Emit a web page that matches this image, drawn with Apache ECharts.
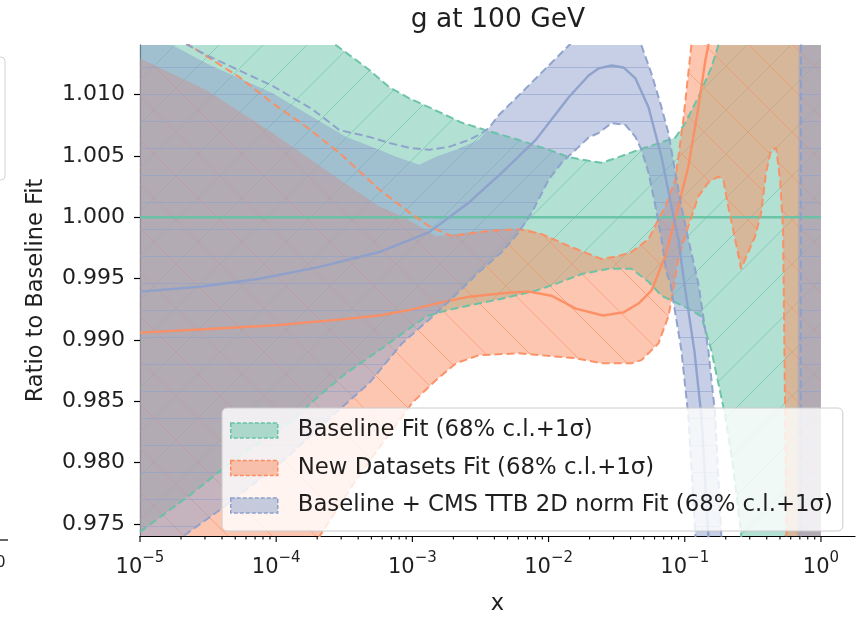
<!DOCTYPE html>
<html>
<head>
<meta charset="utf-8">
<script src="https://cdn.jsdelivr.net/npm/echarts@6/dist/echarts.min.js"></script>
<style>
  html, body { margin: 0; padding: 0; background: #ffffff; }
  #chart { width: 858px; height: 621px; }
</style>
</head>
<body>
<div id="chart"></div>
<script>
// Gluon ratio bands at Q = 100 GeV. Points are [log10(x), ratio to baseline].

const seriesNames = [
  'Baseline Fit (68% c.l.+1σ)',
  'New Datasets Fit (68% c.l.+1σ)',
  'Baseline + CMS TTB 2D norm Fit (68% c.l.+1σ)'
];

// Baseline fit
const greenUpper = [
  [-5.0, 1.0215], [-4.5, 1.0190], [-4.0, 1.0168], [-3.558, 1.0140], [-3.411, 1.0128],
  [-3.316, 1.0120], [-3.17, 1.0106], [-3.023, 1.0097], [-2.826, 1.0087], [-2.635, 1.0077],
  [-2.46, 1.0071], [-2.218, 1.0063], [-1.999, 1.0055], [-1.852, 1.0049], [-1.706, 1.0046],
  [-1.611, 1.00445], [-1.486, 1.0049], [-1.34, 1.0055], [-1.20, 1.0060], [-1.069, 1.0065],
  [-0.996, 1.0077], [-0.90, 1.0098], [-0.805, 1.0122], [-0.754, 1.0140], [-0.65, 1.0175],
  [0.0, 1.0220]
];
const greenLower = [
  [-5.0, 0.97437], [-4.634, 0.97736], [-4.268, 0.9806], [-3.902, 0.98327], [-3.66, 0.98569],
  [-3.485, 0.98731], [-3.243, 0.98917], [-2.899, 0.99192], [-2.753, 0.9924], [-2.584, 0.99281],
  [-2.343, 0.99337], [-2.094, 0.99402], [-1.947, 0.99458], [-1.75, 0.9954], [-1.559, 0.9958],
  [-1.391, 0.9958], [-1.266, 0.99475], [-1.171, 0.99361], [-0.974, 0.99256], [-0.878, 0.99192],
  [-0.805, 0.98917], [-0.754, 0.9865], [-0.703, 0.98383], [-0.644, 0.97963], [-0.586, 0.97413],
  [-0.53, 0.965], [0.0, 0.950]
];
const greenCentral = [[-5.0, 1.0], [0.0, 1.0]];

// New datasets fit
const orangeUpper = [
  [-5.0, 1.01293], [-4.51, 1.01035], [-4.026, 1.00687], [-3.536, 1.00307], [-3.243, 1.00089],
  [-3.075, 1.00008], [-2.826, 0.99846], [-2.584, 0.99879], [-2.343, 0.99903], [-2.145, 0.99903],
  [-2.05, 0.99863], [-1.852, 0.99766], [-1.611, 0.9966], [-1.486, 0.99685], [-1.391, 0.99717],
  [-1.266, 0.99822], [-1.193, 0.99984], [-1.142, 1.00089], [-1.069, 1.00307], [-1.01, 1.0080],
  [-0.952, 1.0140], [-0.9, 1.018], [0.0, 1.030]
];
const orangeUpperDash = [
  [-5.0, 1.0175], [-4.634, 1.0140], [-4.268, 1.0114], [-4.026, 1.0093], [-3.777, 1.00736],
  [-3.536, 1.00525], [-3.243, 1.00226], [-3.023, 1.0004], [-2.877, 0.99927], [-2.709, 0.99846],
  [-2.46, 0.99887], [-2.218, 0.99903], [-2.05, 0.99863], [-1.852, 0.99766], [-1.611, 0.9966],
  [-1.486, 0.99685], [-1.391, 0.99717], [-1.266, 0.99822], [-1.193, 0.99984], [-1.142, 1.00089],
  [-1.069, 1.00307], [-1.01, 1.0080], [-0.952, 1.0140], [-0.9, 1.018]
];
const orangeLower = [
  [-5.0, 0.955], [-4.0, 0.962], [-3.682, 0.9740], [-3.39, 0.9790], [-3.001, 0.98488],
  [-2.826, 0.98674], [-2.679, 0.98811], [-2.511, 0.98876], [-2.218, 0.98892], [-1.977, 0.98868],
  [-1.801, 0.98852], [-1.611, 0.98811], [-1.391, 0.98811], [-1.318, 0.98836], [-1.193, 0.98973],
  [-1.12, 0.99192], [-1.098, 0.99321], [-1.047, 0.9966], [-0.974, 0.99927], [-0.90, 1.00171],
  [-0.827, 1.00283], [-0.754, 1.00331], [-0.717, 1.00307], [-0.681, 1.00089], [-0.63, 0.99822],
  [-0.586, 0.9958], [-0.534, 0.99717], [-0.483, 0.99846], [-0.439, 1.0004], [-0.403, 1.00364],
  [-0.366, 1.0055], [-0.329, 1.00566], [-0.30, 1.00307], [-0.278, 0.9990], [-0.264, 0.985],
  [-0.25, 0.970], [0.0, 0.940]
];
const orangeCentral = [
  [-5.0, 0.9906], [-4.5, 0.9909], [-4.0, 0.9912], [-3.5, 0.9917], [-3.243, 0.9920],
  [-3.0, 0.9925], [-2.826, 0.99297], [-2.584, 0.99353], [-2.3, 0.99385], [-2.145, 0.99394],
  [-1.977, 0.99361], [-1.801, 0.99256], [-1.60, 0.9920], [-1.45, 0.99225], [-1.34, 0.99297],
  [-1.245, 0.99402], [-1.142, 0.99685], [-1.047, 1.00089], [-0.974, 1.00412], [-0.90, 1.00897],
  [-0.849, 1.01277], [-0.827, 1.0140], [-0.75, 1.022]
];

// Baseline + CMS TTB 2D norm fit
const blueUpper = [
  [-5.0, 1.0165], [-4.758, 1.0140], [-4.51, 1.01253], [-4.026, 1.01011], [-3.734, 1.00817],
  [-3.485, 1.00655], [-3.243, 1.0055], [-3.119, 1.00493], [-2.95, 1.00428], [-2.826, 1.00493],
  [-2.679, 1.0055], [-2.511, 1.00631], [-2.438, 1.00728], [-2.365, 1.00833], [-2.218, 1.00994],
  [-2.072, 1.01156], [-1.925, 1.01318], [-1.852, 1.0140], [-1.6, 1.0170], [-1.45, 1.0160],
  [-1.318, 1.0140], [-1.245, 1.01172], [-1.171, 1.00897], [-1.12, 1.00687], [-1.069, 1.00364],
  [-1.025, 1.00089], [-0.974, 0.99822], [-0.90, 0.99458], [-0.827, 0.98917], [-0.776, 0.98383],
  [-0.732, 0.97413], [-0.65, 0.960], [-0.20, 0.955], [-0.175, 0.970], [-0.16, 1.030], [0.0, 1.040]
];
const blueUpperDash = [
  [-5.0, 1.0172], [-4.758, 1.0147], [-4.51, 1.0132], [-4.026, 1.0107], [-3.734, 1.0088],
  [-3.536, 1.00711], [-3.316, 1.00655], [-3.17, 1.00606], [-3.023, 1.00566], [-2.877, 1.0055],
  [-2.731, 1.00574], [-2.584, 1.00631], [-2.489, 1.00687], [-2.438, 1.00728], [-2.365, 1.00833],
  [-2.218, 1.00994], [-2.072, 1.01156], [-1.925, 1.01318], [-1.852, 1.0140], [-1.6, 1.0170],
  [-1.45, 1.0160], [-1.318, 1.0140], [-1.245, 1.01172], [-1.171, 1.00897], [-1.12, 1.00687],
  [-1.069, 1.00364], [-1.025, 1.00089], [-0.974, 0.99822], [-0.90, 0.99458], [-0.827, 0.98917],
  [-0.776, 0.98383], [-0.732, 0.97413], [-0.65, 0.960], [-0.20, 0.955], [-0.15, 0.960], [-0.145, 1.030]
];
const blueLower = [
  [-5.0, 0.965], [-4.685, 0.9740], [-4.414, 0.97615], [-3.975, 0.9799], [-3.609, 0.9836],
  [-3.316, 0.9865], [-3.075, 0.98974], [-2.826, 0.99216], [-2.657, 0.99394], [-2.511, 0.99555],
  [-2.343, 0.99717], [-2.218, 0.99879], [-2.123, 1.0004], [-1.999, 1.00307], [-1.903, 1.00445],
  [-1.801, 1.0055], [-1.706, 1.0065], [-1.633, 1.00687], [-1.537, 1.00768], [-1.435, 1.00752],
  [-1.362, 1.00655], [-1.318, 1.0055], [-1.266, 1.00364], [-1.215, 1.00089], [-1.171, 0.99822],
  [-1.135, 0.99555], [-1.105, 0.99458], [-1.025, 0.98917], [-0.974, 0.98383], [-0.922, 0.97413],
  [-0.85, 0.960], [0.0, 0.940]
];
const blueCentral = [
  [-5.0, 0.99394], [-4.561, 0.99434], [-4.122, 0.99499], [-3.682, 0.99596], [-3.243, 0.99717],
  [-2.877, 0.99879], [-2.584, 1.00121], [-2.343, 1.00364], [-2.094, 1.00631], [-1.852, 1.00978],
  [-1.706, 1.01156], [-1.633, 1.01213], [-1.537, 1.01237], [-1.45, 1.01221], [-1.362, 1.01132],
  [-1.266, 1.00897], [-1.171, 1.00493], [-1.098, 1.00089], [-1.047, 0.99822], [-1.003, 0.99458],
  [-0.93, 0.98917], [-0.878, 0.98383], [-0.827, 0.97413], [-0.78, 0.965]
];

// axis ticks
const yTicks = [0.975, 0.980, 0.985, 0.990, 0.995, 1.000, 1.005, 1.010];
const xDecades = [-5, -4, -3, -2, -1, 0];
const xMinorMultipliers = [2, 3, 4, 5, 6, 7, 8, 9];

const Y_MIN = 0.97403, Y_MAX = 1.01404;
const X_MIN = 1e-5, X_MAX = Math.pow(10, 0.25);
const FONT = 'DejaVu Sans';
const INK = '#1f1f1f';

const GREEN = [102, 194, 165], ORANGE = [252, 141, 98], BLUE = [141, 160, 203];
const rgba = (c, a) => 'rgba(' + c[0] + ',' + c[1] + ',' + c[2] + ',' + a + ')';
const rgb = c => 'rgb(' + c[0] + ',' + c[1] + ',' + c[2] + ')';

// translucent fill with a hatch drawn over it: '/', '\\' or '-'
function hatch(color, kind) {
  const size = kind === '-' ? 27 : 44;
  const cv = document.createElement('canvas');
  cv.width = size; cv.height = size;
  const g = cv.getContext('2d');
  g.fillStyle = rgba(color, 0.5);
  g.fillRect(0, 0, size, size);
  g.strokeStyle = rgba(color, 0.6);
  g.lineWidth = 1;
  g.beginPath();
  if (kind === '-') {
    g.moveTo(0, size / 2); g.lineTo(size, size / 2);
  } else if (kind === '/') {
    for (const c of [0, size, 2 * size]) { g.moveTo(c + size, -size); g.lineTo(c - size, size); }
  } else {
    for (const c of [-size, 0, size]) { g.moveTo(c - size, -size); g.lineTo(c + 2 * size, 2 * size); }
  }
  g.stroke();
  return { image: cv, repeat: 'repeat' };
}

const toXY = pts => pts.map(p => [Math.pow(10, p[0]), p[1]]);

function band(name, upper, lower, fill) {
  const up = toXY(upper), lo = toXY(lower).reverse();
  return {
    type: 'custom', name: name, clip: true, silent: true, z: 2,
    data: [up[0]],
    renderItem: function (params, api) {
      const points = up.concat(lo).map(p => api.coord(p));
      return { type: 'polygon', shape: { points: points }, style: { fill: fill, stroke: null } };
    }
  };
}

function curve(pts, color, dashed) {
  return {
    type: 'line', data: toXY(pts), showSymbol: false, symbol: 'none', silent: true, z: 3,
    clip: true,
    lineStyle: dashed
      ? { color: color, width: 2, type: [8, 4], opacity: 0.95 }
      : { color: color, width: 2.4, opacity: 0.95 }
  };
}

// x-axis ticks: [value, bottom of the y range, tick length]
const xTicks = [];
xDecades.forEach(d => {
  xTicks.push([Math.pow(10, d), Y_MIN, 6]);
  xMinorMultipliers.forEach(m => {
    const v = m * Math.pow(10, d);
    if (v < X_MAX) xTicks.push([v, Y_MIN, 3.5]);
  });
});

const chart = echarts.init(document.getElementById('chart'), null, { renderer: 'canvas' });

chart.setOption({
  animation: false,
  backgroundColor: '#ffffff',
  grid: { left: 140, top: 45, right: 1, bottom: 81, containLabel: false },
  xAxis: {
    type: 'log', logBase: 10, min: X_MIN, max: X_MAX, splitNumber: 5,
    name: 'x', nameLocation: 'middle', nameGap: 57,
    nameTextStyle: { fontFamily: FONT, fontSize: 22.5, color: INK },
    axisLine: { show: true, lineStyle: { color: '#000', width: 1.2 } },
    axisTick: { show: false },
    splitLine: { show: false },
    axisLabel: {
      margin: 18, showMinLabel: true, showMaxLabel: true,
      formatter: function (v) {
        const l = Math.log10(v), e = Math.round(l);
        if (Math.abs(l - e) > 1e-6) return '';
        return '{b|10}{s|' + (e < 0 ? '\u2212' + (-e) : String(e)) + '}';
      },
      rich: {
        b: { fontFamily: FONT, fontSize: 21, lineHeight: 24, color: INK, verticalAlign: 'bottom' },
        s: { fontFamily: FONT, fontSize: 15, lineHeight: 15, color: INK, verticalAlign: 'bottom', padding: [0, 0, 12, 0] }
      }
    }
  },
  yAxis: {
    type: 'value', min: Y_MIN, max: Y_MAX,
    name: 'Ratio to Baseline Fit', nameLocation: 'middle', nameGap: 92, nameRotate: 90,
    nameTextStyle: { fontFamily: FONT, fontSize: 22.5, color: INK },
    axisLine: { show: true, lineStyle: { color: '#000', width: 1.2 } },
    axisTick: { show: true, length: 6, customValues: yTicks, lineStyle: { color: '#000', width: 1.2 } },
    splitLine: { show: false },
    axisLabel: {
      customValues: yTicks, margin: 15,
      fontFamily: FONT, fontSize: 22, color: INK,
      formatter: v => Number(v).toFixed(3)
    }
  },
  legend: {
    orient: 'vertical', left: 222, top: 408,
    selectedMode: false,
    itemWidth: 47, itemHeight: 15, itemGap: 14.5,
    padding: [11, 10, 14, 8],
    backgroundColor: 'rgba(255,255,255,0.8)', borderColor: '#cccccc', borderWidth: 1, borderRadius: 5,
    textStyle: { fontFamily: FONT, fontSize: 22.8, color: INK, lineHeight: 22, padding: [0, 0, 0, 15] },
    data: [
      { name: seriesNames[0], icon: 'rect', itemStyle: { color: rgba(GREEN, 0.5), borderColor: rgb(GREEN), borderWidth: 1.5, borderType: [4, 2] } },
      { name: seriesNames[1], icon: 'rect', itemStyle: { color: rgba(ORANGE, 0.5), borderColor: rgb(ORANGE), borderWidth: 1.5, borderType: [4, 2] } },
      { name: seriesNames[2], icon: 'rect', itemStyle: { color: rgba(BLUE, 0.5), borderColor: rgb(BLUE), borderWidth: 1.5, borderType: [4, 2] } }
    ]
  },
  graphic: [
    { type: 'text', x: 498, y: 7, z: 10,
      style: { text: 'g at 100 GeV', fontFamily: FONT, fontSize: 26.5, fill: INK,
               align: 'center', textAlign: 'center', verticalAlign: 'top', textVerticalAlign: 'top' } },
    // pieces of the neighbouring panel at the left edge
    { type: 'rect', shape: { x: -20, y: 57, width: 25, height: 123, r: 4 },
      style: { fill: 'rgba(255,255,255,0.8)', stroke: '#d4d4d4', lineWidth: 1 } },
    { type: 'line', shape: { x1: 0, y1: 540, x2: 8, y2: 540 }, style: { stroke: '#000', lineWidth: 1.2 } },
    { type: 'text', x: -4, y: 556,
      style: { text: '0', fontFamily: FONT, fontSize: 15, fill: INK, verticalAlign: 'top', textVerticalAlign: 'top' } }
  ],
  series: [
    band(seriesNames[0], greenUpper, greenLower, hatch(GREEN, '/')),
    band(seriesNames[1], orangeUpper, orangeLower, hatch(ORANGE, '\\')),
    band(seriesNames[2], blueUpper, blueLower, hatch(BLUE, '-')),
    curve(greenCentral, rgb(GREEN), false),
    curve(greenUpper, rgb(GREEN), true),
    curve(greenLower, rgb(GREEN), true),
    curve(orangeCentral, rgb(ORANGE), false),
    curve(orangeUpperDash, rgb(ORANGE), true),
    curve(orangeLower, rgb(ORANGE), true),
    curve(blueCentral, rgb(BLUE), false),
    curve(blueUpperDash, rgb(BLUE), true),
    curve(blueLower, rgb(BLUE), true),
    {
      type: 'custom', silent: true, clip: false, z: 4,
      data: xTicks,
      renderItem: function (params, api) {
        const p = api.coord([api.value(0), api.value(1)]);
        return { type: 'line', shape: { x1: p[0], y1: p[1], x2: p[0], y2: p[1] + api.value(2) },
                 style: { stroke: '#000', lineWidth: 1.1 } };
      }
    }
  ]
});
</script>
</body>
</html>
